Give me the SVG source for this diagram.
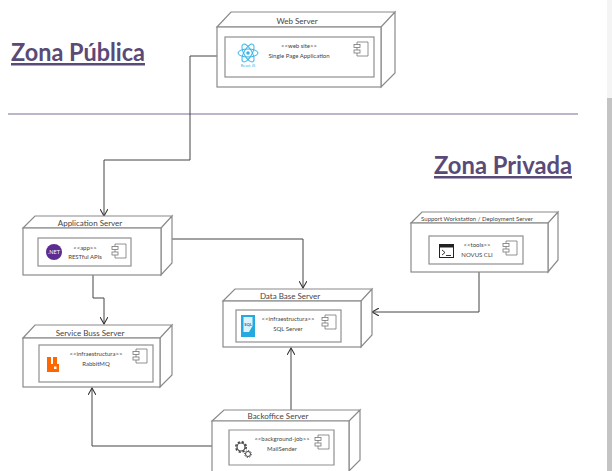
<svg xmlns="http://www.w3.org/2000/svg" width="612" height="471" viewBox="0 0 612 471">
<style>
.box{fill:#fff;stroke:#8a8a8a;stroke-width:1.2}
.inner{fill:#fff;stroke:#8f8f8f;stroke-width:1.2}
.comp{fill:#fff;stroke:#777;stroke-width:.8}
.t{font-family:"Lato","Liberation Sans",sans-serif;fill:#444;text-anchor:middle}
.title{font-size:8px}
.s{font-size:6px}
.zone{font-family:"Lato","Open Sans",sans-serif;font-weight:700;font-size:25px;fill:#5a4a78;text-decoration:underline}
.conn{fill:none;stroke:#444;stroke-width:1}
.gear{fill:none;stroke:#444}
</style>
<defs>
<marker id="arrow" viewBox="0 0 8 8" refX="7" refY="4" markerWidth="8" markerHeight="8" markerUnits="userSpaceOnUse" orient="auto">
<path d="M0 0L7 4L0 8" fill="none" stroke="#333" stroke-width="1.1"/>
</marker>
<g id="compicon">
<path class="comp" d="M3 0H14V14H3Z"/>
<rect class="comp" x="0" y="2.500" width="6" height="3"/>
<rect class="comp" x="0" y="8" width="6" height="3"/>
</g>
</defs>
<rect x="607" y="0" width="5" height="98" fill="#f4f4f4"/>
<rect x="607" y="98" width="5" height="373" fill="#c4c4c4"/>
<g id="zones">
<text class="zone" x="11" y="61" textLength="134" lengthAdjust="spacingAndGlyphs">Zona Pública</text>
<text class="zone" x="434" y="174" textLength="138" lengthAdjust="spacingAndGlyphs">Zona Privada</text>
<line x1="8" y1="114" x2="578" y2="114" stroke="#a79cb8" stroke-width="1.4"/>
</g>
<g id="connectors">
<path class="conn" d="M217 56H190V160H104V216" marker-end="url(#arrow)"/>
<path class="conn" d="M172 239H303V288" marker-end="url(#arrow)"/>
<path class="conn" d="M93 275V298H104V324" marker-end="url(#arrow)"/>
<path class="conn" d="M479 272V312H372" marker-end="url(#arrow)"/>
<path class="conn" d="M291 410V348" marker-end="url(#arrow)"/>
<path class="conn" d="M212 446H92V388" marker-end="url(#arrow)"/>
</g>
<g id="web-server">
<path class="box" d="M217 27L231 12H395L381 27ZM381 27L395 12V73L381 87Z"/>
<rect class="box" x="217" y="27" width="164" height="60"/>
<text class="t title" x="297" y="24">Web Server</text>
<rect class="inner" x="225" y="37" width="149" height="40"/>
<g fill="none" stroke="#35b5e8" stroke-width="1">
<ellipse cx="248" cy="53" rx="10" ry="4"/>
<ellipse cx="248" cy="53" rx="10" ry="4" transform="rotate(60 248 53)"/>
<ellipse cx="248" cy="53" rx="10" ry="4" transform="rotate(120 248 53)"/>
</g>
<circle cx="248" cy="53" r="1.800" fill="#35b5e8"/>
<text class="t" font-size="4" x="248" y="67" style="fill:#35b5e8">React JS</text>
<text class="t s" x="299" y="48">&lt;&lt;web site&gt;&gt;</text>
<text class="t s" x="299" y="58">Single Page Application</text>
<use href="#compicon" x="354" y="42"/>
</g>
<g id="application-server">
<path class="box" d="M23 228L35 216H172L161 228ZM161 228L172 216V263L161 275Z"/>
<rect class="box" x="23" y="228" width="138" height="47"/>
<text class="t title" x="90" y="226">Application Server</text>
<rect class="inner" x="38" y="238" width="93" height="28"/>
<circle cx="54" cy="252" r="8" fill="#5c2d91"/>
<text class="t" font-size="5.500" x="54" y="254" style="fill:#fff">.NET</text>
<text class="t s" x="85" y="250">&lt;&lt;app&gt;&gt;</text>
<text class="t s" x="85" y="259">RESTful APIs</text>
<use href="#compicon" x="112" y="244"/>
</g>
<g id="service-buss-server">
<path class="box" d="M23 338L35 325H172L160 338ZM160 338L172 325V375L160 387Z"/>
<rect class="box" x="23" y="338" width="137" height="49"/>
<text class="t title" x="90" y="336">Service Buss Server</text>
<rect class="inner" x="39" y="345" width="114" height="37"/>
<path fill="#ff6600" d="M47 357H51V364H53V357H57V364H59V372H47Z"/>
<rect x="54" y="366.500" width="2.500" height="2.500" fill="#fff"/>
<text class="t s" x="96" y="356">&lt;&lt;infraestructura&gt;&gt;</text>
<text class="t s" x="96" y="366">RabbitMQ</text>
<use href="#compicon" x="133" y="349"/>
</g>
<g id="data-base-server">
<path class="box" d="M223 301L235 289H372L361 301ZM361 301L372 289V335L361 347Z"/>
<rect class="box" x="223" y="301" width="138" height="46"/>
<text class="t title" x="290" y="299">Data Base Server</text>
<rect class="inner" x="236" y="310" width="105" height="32"/>
<rect x="241" y="315" width="14" height="22" fill="#25a9e0"/>
<path d="M243.500 317H252.500V326L249 332H243.500Z" fill="#fff" opacity=".85"/>
<text class="t" font-size="4" font-weight="700" x="248" y="326" style="fill:#0b6fa8">SQL</text>
<text class="t s" x="288" y="321">&lt;&lt;infraestructura&gt;&gt;</text>
<text class="t s" x="288" y="331">SQL Server</text>
<use href="#compicon" x="322" y="315"/>
</g>
<g id="support-workstation">
<path class="box" d="M411 223L422 212H558L548 223ZM548 223L558 212V260L548 272Z"/>
<rect class="box" x="411" y="223" width="137" height="49"/>
<text class="t" font-size="6" x="477" y="221">Support Workstation / Deployment Server</text>
<rect class="inner" x="429" y="236" width="94" height="28"/>
<rect x="439.500" y="244.500" width="14" height="13" fill="#fff" stroke="#222"/>
<rect x="439" y="244" width="15" height="3.500" fill="#222"/>
<path d="M442 250L445 252.500L442 255M446 255.500H451" fill="none" stroke="#222" stroke-width=".9"/>
<text class="t s" x="477" y="247">&lt;&lt;tools&gt;&gt;</text>
<text class="t s" x="477" y="257">NOVUS CLI</text>
<use href="#compicon" x="503" y="241"/>
</g>
<g id="backoffice-server">
<path class="box" d="M212 421L224 410H360L349 421ZM349 421L360 410V460L349 471Z"/>
<path class="box" d="M212 471V421H349V471"/>
<text class="t title" x="278" y="419">Backoffice Server</text>
<path class="inner" d="M229 465V430H334V465Z"/>
<circle class="gear" cx="241" cy="447" r="4" stroke-width="1.200"/>
<circle class="gear" cx="241" cy="447" r="5.200" stroke-width="1.600" stroke-dasharray="2.200 1.900"/>
<circle class="gear" cx="248" cy="454" r="2.500" stroke-width="1"/>
<circle class="gear" cx="248" cy="454" r="3.400" stroke-width="1" stroke-dasharray="1.300 1.300"/>
<text class="t s" x="282" y="441">&lt;&lt;background-job&gt;&gt;</text>
<text class="t s" x="282" y="451">MailSender</text>
<use href="#compicon" x="315" y="435"/>
</g>
</svg>
